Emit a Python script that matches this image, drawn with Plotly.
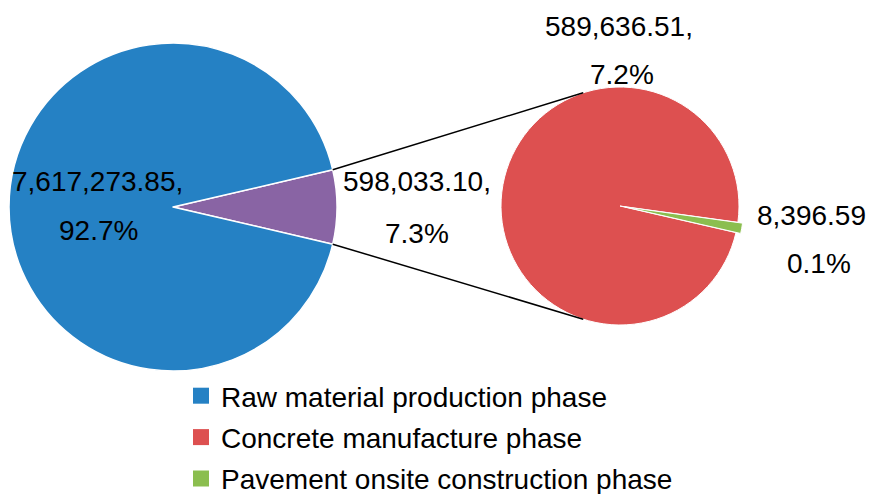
import math
import plotly.graph_objects as go

W, H = 875, 494
OFF = 8  # default <body> margin of the written page

# ---- data ----
categories = ["Raw material production phase",
              "Concrete manufacture phase",
              "Pavement onsite construction phase"]
values = [7617273.85, 589636.51, 8396.59]
colors = ["#2581C4", "#DD5050", "#8BBE4F"]
other_color = "#8964A4"

other_value = values[1] + values[2]
total = sum(values)

FONT = "Liberation Sans, Arial, sans-serif"
FS = 28

# ---- geometry (screen pixels) ----
L_CX, L_CY, L_R = 173, 207, 164
R_CX, R_CY, R_R = 620, 206, 119
pull_green = 0.04


def px2paper(x, y):
    return (x - OFF) / W, 1 - (y - OFF) / H


def domain(cx, cy, half):
    x0, y1 = px2paper(cx - half, cy - half)
    x1, y0 = px2paper(cx + half, cy + half)
    return dict(x=[x0, x1], y=[y0, y1])


other_angle = 360 * other_value / total
green_angle = 360 * values[2] / other_value

fig = go.Figure()

fig.add_trace(go.Pie(
    labels=["Other", categories[0]],
    values=[other_value, values[0]],
    sort=False, direction="clockwise",
    rotation=90 - other_angle / 2,
    marker=dict(colors=[other_color, colors[0]], line=dict(color="white", width=1.5)),
    textinfo="none", hoverinfo="label+value+percent",
    showlegend=False,
    domain=domain(L_CX, L_CY, L_R),
))

fig.add_trace(go.Pie(
    labels=categories[1:],
    values=values[1:],
    sort=False, direction="clockwise",
    rotation=100.4 + green_angle / 2,
    pull=[0, pull_green],
    marker=dict(colors=colors[1:], line=dict(color="white", width=1)),
    textinfo="none", hoverinfo="label+value",
    showlegend=False,
    domain=domain(R_CX, R_CY, R_R * (1 + pull_green)),
))

# legend entries
for name, c in zip(categories, colors):
    fig.add_trace(go.Scatter(
        x=[None], y=[None], mode="markers", name=name,
        marker=dict(symbol="square", size=17, color=c),
        legendgroup=name, showlegend=True,
    ))

# connector lines from exploded slice to second pie
half = math.radians(other_angle / 2)
a_off = math.radians(18)
for s in (-1, 1):
    x0 = L_CX + L_R * math.cos(half)
    y0 = L_CY + s * L_R * math.sin(half)
    x1 = R_CX - R_R * math.sin(a_off)
    y1 = R_CY + s * R_R * math.cos(a_off)
    p0 = px2paper(x0, y0)
    p1 = px2paper(x1, y1)
    fig.add_shape(type="line", xref="paper", yref="paper",
                  x0=p0[0], y0=p0[1], x1=p1[0], y1=p1[1],
                  line=dict(color="black", width=1.5))

# data labels
label_pos = [
    ((97, 181), (98, 230), values[0]),
    ((417, 181), (417, 233), other_value),
    ((619, 26), (622, 74), values[1]),
    ((815, 215), (819, 263), values[2]),
]
for (p1, p2, v) in label_pos:
    for (pt, txt) in ((p1, f"{v:,.2f},"), (p2, f"{v / total * 100:.1f}%")):
        x, y = px2paper(*pt)
        fig.add_annotation(x=x, y=y, xref="paper", yref="paper",
                           text=txt, showarrow=False,
                           xanchor="center", yanchor="middle",
                           font=dict(size=FS, color="black", family=FONT))

lx, ly = px2paper(181, 371)
fig.update_layout(
    width=W, height=H,
    margin=dict(l=0, r=0, t=0, b=0, autoexpand=False),
    paper_bgcolor="white", plot_bgcolor="white",
    xaxis=dict(visible=False), yaxis=dict(visible=False),
    font=dict(family=FONT, color="black"),
    legend=dict(x=lx, y=ly, xanchor="left", yanchor="top",
                font=dict(size=FS, family=FONT, color="black"),
                tracegroupgap=2, bgcolor="rgba(0,0,0,0)"),
)

fig.write_html("out.html")
